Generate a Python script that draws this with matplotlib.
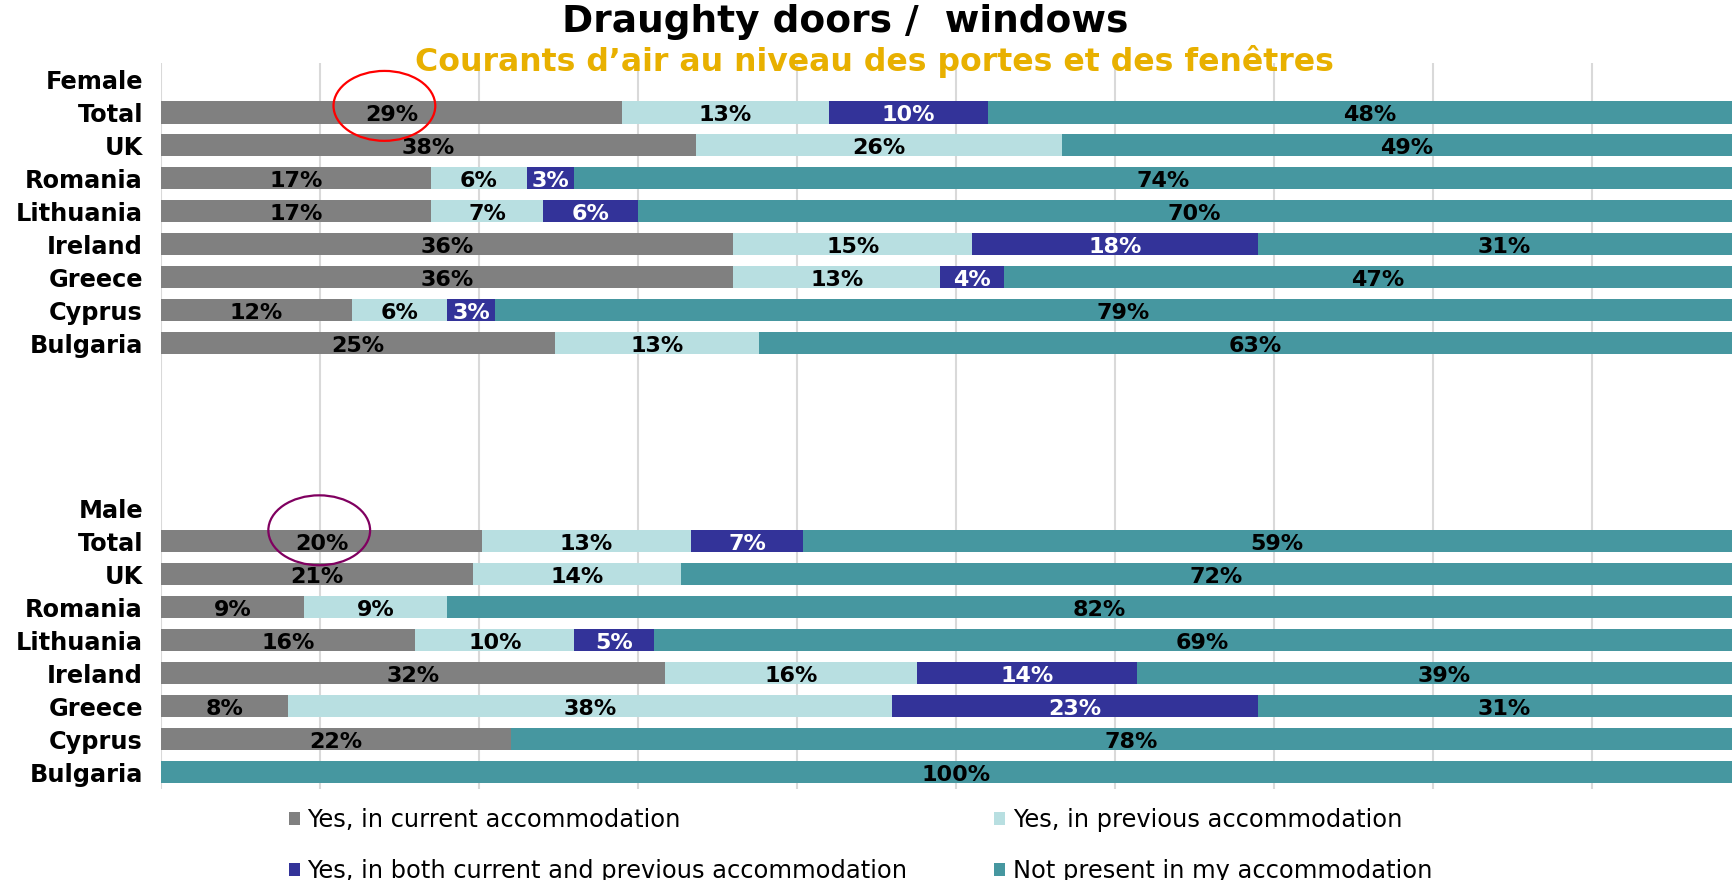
import numpy as np
import matplotlib
matplotlib.use("Agg")
import matplotlib.pyplot as plt
from matplotlib.patches import Ellipse

plt.rcParams['font.family'] = ['DejaVu Sans']

# raw survey shares (labels show these, bars are scaled to 100%)
countries = ['Total', 'UK', 'Romania', 'Lithuania', 'Ireland', 'Greece', 'Cyprus', 'Bulgaria']
female_current = [29, 38, 17, 17, 36, 36, 12, 25]
female_previous = [13, 26, 6, 7, 15, 13, 6, 13]
female_both = [10, 0, 3, 6, 18, 4, 3, 0]
female_not = [48, 49, 74, 70, 31, 47, 79, 63]
male_current = [20, 21, 9, 16, 32, 8, 22, 0]
male_previous = [13, 14, 9, 10, 16, 38, 0, 0]
male_both = [7, 0, 0, 5, 14, 23, 0, 0]
male_not = [59, 72, 82, 69, 39, 31, 78, 100]

series_names = ['Yes, in current accommodation', 'Yes, in previous accommodation',
                'Yes, in both current and previous accommodation', 'Not present in my accommodation']
colors = ['#808080', '#B8DFE1', '#333399', '#4697A0']
text_colors = ['black', 'black', 'white', 'black']

# rows: Female header, 8 countries, 4 blank, Male header, 8 countries
female_rows = np.arange(1, 9)
male_rows = np.arange(14, 22)

fig = plt.figure(figsize=(17.32, 8.8), dpi=100)
ax = fig.add_axes([161 / 1732, 1 - 788.5 / 880, 1590 / 1732, 725.5 / 880])

handles = []
groups_all = [(female_rows, [female_current, female_previous, female_both, female_not], '#FF0000', -0.45, -0.2),
              (male_rows, [male_current, male_previous, male_both, male_not], '#800060', -0.15, -0.33)]
for rows, groups, ring, dx, dy in groups_all:
    vals = np.array(groups, dtype=float)
    share = vals / vals.sum(axis=0) * 100
    left = np.zeros(len(rows))
    for k in range(4):
        b = ax.barh(rows, share[k], left=left, height=0.67, color=colors[k], label=series_names[k])
        if len(handles) < 4:
            handles.append(b)
        for r, v, l, s in zip(rows, vals[k], left, share[k]):
            if v > 0:
                ax.text(l + s / 2, r + 0.08, f'{int(v)}%', ha='center', va='center',
                        fontsize=16, fontweight='bold', color=text_colors[k])
        left = left + share[k]

    # highlight circle around the Total "current" value
    ax.add_patch(Ellipse((share[0][0] / 2 + dx, rows[0] + dy), 6.4, 2.12, fill=False, lw=1.6,
                         edgecolor=ring, zorder=5))

ax.set_xlim(0, 100)
ax.set_ylim(21.5, -0.5)
ax.set_xticks(range(0, 101, 10))
ax.set_xticklabels([])
ytick_pos = [0] + list(female_rows) + [13] + list(male_rows)
ytick_lab = ['Female'] + countries + ['Male'] + countries
ax.set_yticks(ytick_pos)
ax.set_yticklabels(ytick_lab, fontsize=17.3, fontweight='bold')
ax.tick_params(length=0, pad=13)
ax.grid(axis='x', color='#D9D9D9', lw=1.5)
ax.set_axisbelow(True)
for sp in ax.spines.values():
    sp.set_visible(False)

fig.text(845 / 1732, 1 - 22 / 880, 'Draughty doors /  windows', ha='center', va='center',
         fontsize=27, fontweight='bold', color='black')
fig.text(874 / 1732, 1 - 62 / 880, 'Courants d\u2019air au niveau des portes et des fen\u00eatres',
         ha='center', va='center', fontsize=22.7, fontweight='bold', color='#E8B000')

order = [handles[0], handles[2], handles[1], handles[3]]
fig.legend(order, [h.get_label() for h in order], ncol=2, loc='upper left',
           bbox_to_anchor=(289 / 1732, 1 - 808 / 880), frameon=False, fontsize=17.4,
           handlelength=0.46, handleheight=0.5, handletextpad=0.3,
           columnspacing=3.6, labelspacing=1.12, borderaxespad=0, borderpad=0)

fig.savefig('out.png', dpi=100)
